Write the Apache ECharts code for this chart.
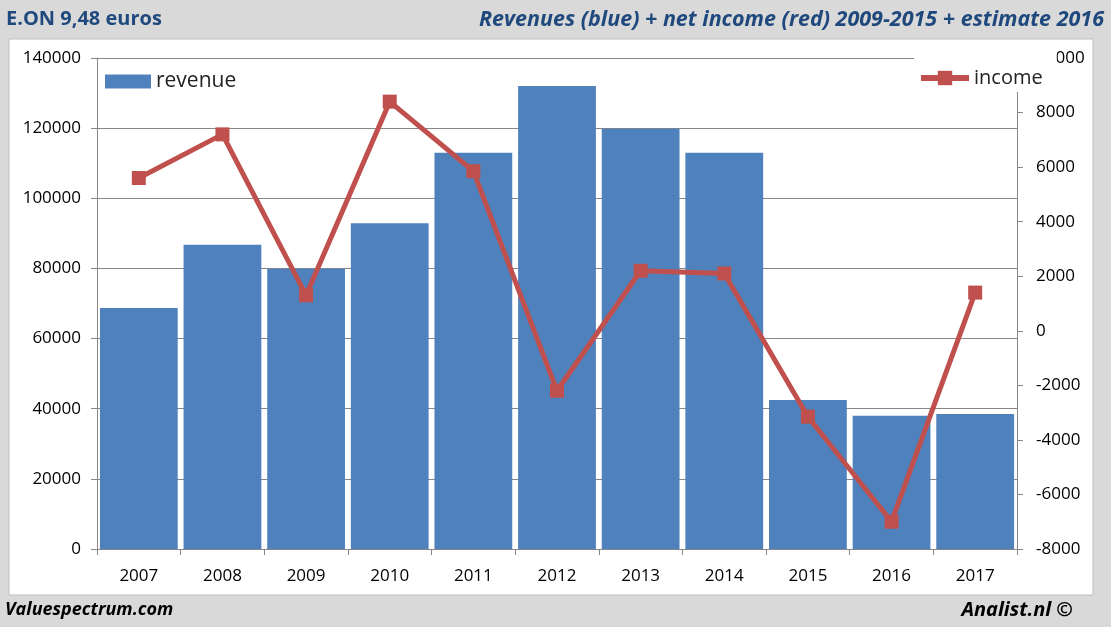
<!DOCTYPE html>
<html><head><meta charset="utf-8">
<script src="https://cdn.jsdelivr.net/npm/echarts@6/dist/echarts.min.js"></script>
<style>html,body{margin:0;padding:0;background:#d9d9d9}#c{width:1111px;height:627px}</style>
</head><body><div id="c"></div>
<script>
const years = ['2007','2008','2009','2010','2011','2012','2013','2014','2015','2016','2017'];
const revenue = [68700, 86750, 79900, 92900, 113000, 132000, 119800, 113000, 42500, 38000, 38500];
const income = [5600, 7200, 1300, 8400, 5850, -2200, 2200, 2100, -3150, -7000, 1400];
const leftTicks = {min: 0, max: 140000, interval: 20000};
const rightTicks = {min: -8000, max: 10000, interval: 2000};

const font = "'Open Sans', 'DejaVu Sans', sans-serif";
const chart = echarts.init(document.getElementById('c'));
chart.setOption({
  backgroundColor: '#d9d9d9',
  animation: false,
  textStyle: {fontFamily: font},
  graphic: [
    {type: 'rect', z: -10, shape: {x: 9, y: 39, width: 1084, height: 556}, style: {fill: '#ffffff', stroke: '#bfbfbf', lineWidth: 1}},
    {type: 'text', left: 6, top: 9, style: {text: 'E.ON 9,48 euros', fill: '#1f497d', font: "bold 20px " + font}},
    {type: 'text', right: 7, top: 9, style: {text: 'Revenues (blue) + net income (red) 2009-2015 + estimate 2016', fill: '#1f497d', font: "italic bold 21.5px " + font}},
    {type: 'text', left: 5, top: 601, style: {text: 'Valuespectrum.com', fill: '#000', font: "italic bold 18px " + font}},
    {type: 'text', right: 38, top: 600, style: {text: 'Analist.nl ©', fill: '#000', font: "italic bold 20px " + font}}
  ],
  legend: [
    {data: [{name: 'revenue', icon: 'rect'}], left: 100, top: 66, itemWidth: 46, itemHeight: 14, itemGap: 6,
     textStyle: {fontSize: 21, color: '#222', fontFamily: font}},
    {data: ['income'], left: 914, top: 44, itemWidth: 48, itemHeight: 18, z: 10,
     backgroundColor: '#ffffff', padding: [24, 14, 4, 4],
     lineStyle: {width: 6},
     textStyle: {fontSize: 20, color: '#222', fontFamily: font}}
  ],
  grid: {left: 97, right: 94, top: 58, bottom: 78},
  xAxis: {
    type: 'category', data: years,
    axisLine: {lineStyle: {color: '#868686'}},
    axisTick: {show: true, alignWithLabel: false, length: 6, lineStyle: {color: '#868686'}},
    axisLabel: {fontSize: 17, color: '#000', margin: 19}
  },
  yAxis: [
    {type: 'value', min: leftTicks.min, max: leftTicks.max, interval: leftTicks.interval,
     axisLine: {show: true, lineStyle: {color: '#868686'}},
     axisTick: {show: true, length: 6, lineStyle: {color: '#868686'}},
     splitLine: {lineStyle: {color: '#868686'}},
     axisLabel: {fontSize: 17, color: '#000', margin: 16, formatter: v => String(v)}},
    {type: 'value', position: 'right', min: rightTicks.min, max: rightTicks.max, interval: rightTicks.interval,
     axisLine: {show: true, lineStyle: {color: '#868686'}},
     axisTick: {show: true, length: 6, lineStyle: {color: '#868686'}},
     splitLine: {show: false},
     axisLabel: {fontSize: 17, color: '#000', margin: 19, formatter: v => String(v)}}
  ],
  series: [
    {name: 'revenue', type: 'bar', data: revenue, yAxisIndex: 0, barCategoryGap: '7%',
     itemStyle: {color: '#4f81bd'}},
    {name: 'income', type: 'line', data: income, yAxisIndex: 1,
     symbol: 'rect', symbolSize: 14,
     lineStyle: {color: '#c0504d', width: 5},
     itemStyle: {color: '#c0504d'}}
  ]
});
</script></body></html>
